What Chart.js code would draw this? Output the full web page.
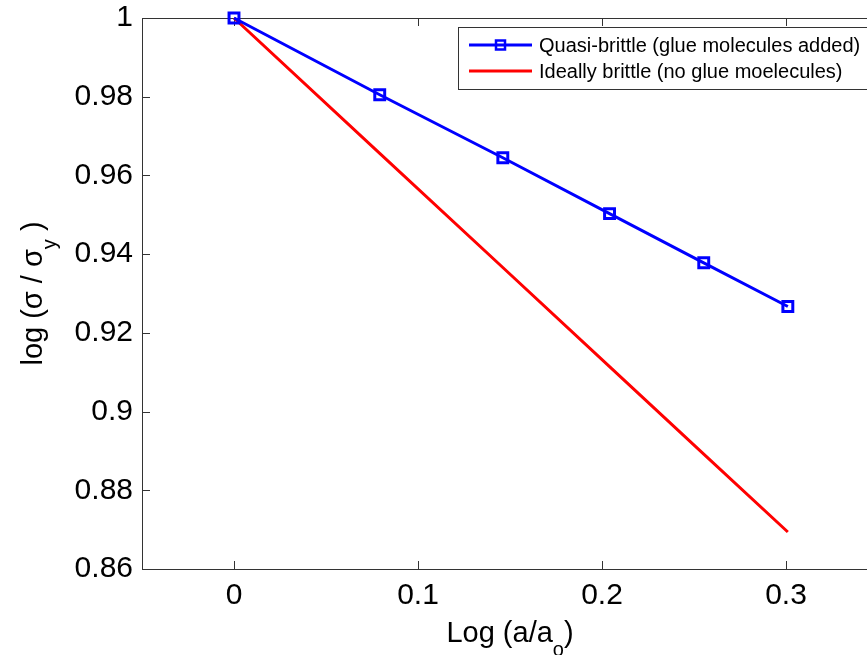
<!DOCTYPE html>
<html>
<head>
<meta charset="utf-8">
<script src="https://cdn.jsdelivr.net/npm/chart.js@4.4.0/dist/chart.umd.min.js"></script>
<style>
html, body { margin: 0; padding: 0; overflow: hidden; background: #fff; }
#wrap { width: 890px; height: 655px; }
</style>
</head>
<body>
<div id="wrap"><canvas id="chart"></canvas></div>
<script>
// log(a/a0) for a/a0 = 1, 1.2, 1.4, 1.6, 1.8, 2
const logCrack = [0, 0.0792, 0.1461, 0.2041, 0.2553, 0.3010];
const quasiBrittle = [1, 0.9805, 0.9645, 0.9503, 0.9378, 0.9267];
const idealBrittle = [1, 0.9656, 0.9366, 0.9114, 0.8892, 0.8694];
const xTicks = [0, 0.1, 0.2, 0.3];
const yTicks = [0.86, 0.88, 0.9, 0.92, 0.94, 0.96, 0.98, 1];
const seriesNames = ['Quasi-brittle (glue molecules added)', 'Ideally brittle (no glue moelecules)'];

const FONT = 'Arial, "Liberation Sans", sans-serif';
const AXIS_COLOR = '#333';

function toPoints(ys) {
    return logCrack.map((x, i) => ({ x: x, y: ys[i] }));
}

// draw text made of normal and subscript parts, centred on cx
function drawParts(ctx, parts, cx, baseY) {
    let total = 0;
    parts.forEach(p => {
        ctx.font = (p.sub ? '20px ' : '29px ') + FONT;
        p.w = ctx.measureText(p.t).width;
        total += p.w;
    });
    let x = cx - total / 2;
    parts.forEach(p => {
        ctx.font = (p.sub ? '20px ' : '29px ') + FONT;
        ctx.fillText(p.t, x, baseY + (p.sub ? 14 : 0));
        x += p.w;
    });
}

const matlabLook = {
    id: 'matlabLook',
    beforeDatasetsDraw(chart) {
        const { ctx, chartArea: a, scales } = chart;
        ctx.save();
        ctx.strokeStyle = AXIS_COLOR;
        ctx.lineWidth = 1;
        ctx.strokeRect(a.left + 0.5, a.top + 0.5, a.right - a.left, a.bottom - a.top);
        ctx.beginPath();
        xTicks.forEach(v => {
            const px = Math.round(scales.x.getPixelForValue(v)) + 0.5;
            ctx.moveTo(px, a.bottom); ctx.lineTo(px, a.bottom - 8);
            ctx.moveTo(px, a.top); ctx.lineTo(px, a.top + 8);
        });
        yTicks.forEach(v => {
            const py = Math.round(scales.y.getPixelForValue(v)) + 0.5;
            ctx.moveTo(a.left, py); ctx.lineTo(a.left + 8, py);
            ctx.moveTo(a.right, py); ctx.lineTo(a.right - 8, py);
        });
        ctx.stroke();
        ctx.restore();
    },
    afterDraw(chart) {
        const { ctx, chartArea: a } = chart;
        ctx.save();
        ctx.fillStyle = '#000';
        ctx.textAlign = 'left';
        ctx.textBaseline = 'alphabetic';

        // x axis title
        drawParts(ctx, [{ t: 'Log (a/a' }, { t: 'o', sub: true }, { t: ')' }], (a.left + a.right) / 2, 642);

        // y axis title, rotated
        ctx.save();
        ctx.translate(42, (a.top + a.bottom) / 2);
        ctx.rotate(-Math.PI / 2);
        drawParts(ctx, [{ t: 'log (\u03c3 / \u03c3' }, { t: 'y', sub: true }, { t: ' )' }], 0, 0);
        ctx.restore();

        // legend
        const bx = 458, by = 27, bw = 420, bh = 62;
        ctx.fillStyle = '#fff';
        ctx.fillRect(bx, by, bw, bh);
        ctx.strokeStyle = AXIS_COLOR;
        ctx.lineWidth = 1;
        ctx.strokeRect(bx + 0.5, by + 0.5, bw, bh);
        ctx.font = '20px ' + FONT;
        ctx.textBaseline = 'middle';
        chart.data.datasets.forEach((ds, i) => {
            const yy = 45 + i * 26;
            ctx.strokeStyle = ds.borderColor;
            ctx.lineWidth = 3;
            ctx.beginPath();
            ctx.moveTo(469, yy); ctx.lineTo(532, yy);
            ctx.stroke();
            if (ds.pointRadius > 0) {
                ctx.lineWidth = 2.5;
                ctx.strokeRect(496, yy - 4.5, 9, 9);
            }
            ctx.fillStyle = '#000';
            ctx.fillText(ds.label, 539, yy + 1);
        });
        ctx.restore();
    }
};

const ctx = document.getElementById('chart').getContext('2d');
const chart = new Chart(ctx, {
    type: 'line',
    data: {
        datasets: [
            {
                label: seriesNames[0],
                data: toPoints(quasiBrittle),
                borderColor: '#0000ff',
                backgroundColor: 'rgba(0,0,0,0)',
                borderWidth: 3,
                pointStyle: 'rect',
                pointRadius: 7,
                pointBorderWidth: 3,
                pointBorderColor: '#0000ff',
                pointBackgroundColor: 'rgba(0,0,0,0)',
                tension: 0,
                clip: false
            },
            {
                label: seriesNames[1],
                data: toPoints(idealBrittle),
                borderColor: '#ff0000',
                backgroundColor: 'rgba(0,0,0,0)',
                borderWidth: 3,
                pointRadius: 0,
                tension: 0,
                clip: false
            }
        ]
    },
    options: {
        responsive: true,
        maintainAspectRatio: false,
        animation: false,
        layout: { padding: { top: 18, right: 12, left: 0, bottom: 0 } },
        plugins: {
            legend: { display: false },
            tooltip: { enabled: false }
        },
        scales: {
            x: {
                type: 'linear',
                min: -0.05,
                max: 0.35,
                afterBuildTicks: scale => { scale.ticks = xTicks.map(v => ({ value: v })); },
                afterFit: scale => {
                    scale.height = 86;
                    scale.paddingLeft = 0;
                    scale.paddingRight = 0;
                },
                grid: { display: false, drawTicks: false },
                border: { display: false },
                ticks: {
                    color: '#000',
                    font: { family: FONT, size: 30 },
                    padding: 9,
                    maxRotation: 0,
                    callback: v => String(v)
                }
            },
            y: {
                type: 'linear',
                min: 0.86,
                max: 1,
                afterBuildTicks: scale => { scale.ticks = yTicks.map(v => ({ value: v })); },
                afterFit: scale => {
                    scale.width = 142;
                    scale.paddingTop = 0;
                    scale.paddingBottom = 0;
                },
                grid: { display: false, drawTicks: false },
                border: { display: false },
                ticks: {
                    color: '#000',
                    font: { family: FONT, size: 30 },
                    padding: 9,
                    callback: v => String(v)
                }
            }
        }
    },
    plugins: [matlabLook]
});
</script>
</body>
</html>
